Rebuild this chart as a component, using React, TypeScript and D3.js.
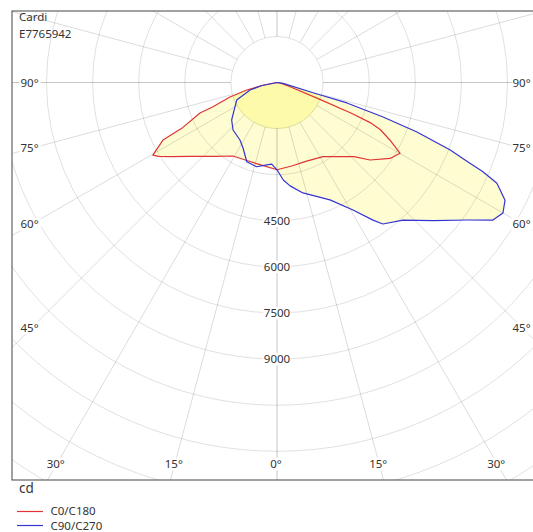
import React from "react";
import * as d3 from "d3";

const title = "Cardi";
const code = "E7765942";
const unitLabel = "cd";
const legendNames = ["C0/C180", "C90/C270"];
const legendColors = ["#e03434", "#3434d2"];
const ringStep = 1500;
const ringLabels = [4500, 6000, 7500, 9000];
const sideAngleTicks = [90, 75, 60, 45];
const bottomAngleTicks = [-30, -15, 0, 15, 30];

// C0 (right) / C180 (left) half-planes
const c0Gamma = [0, 10, 20, 31.8, 46.1, 50.2, 56.1, 60.1, 63, 65.5, 66.7, 67.5, 68.5, 72, 80, 90];
const c0Cd = [2840, 2760, 2730, 2840, 3480, 3940, 4430, 4620, 4120, 3690, 3300, 2640, 1500, 450, 120, 0];
const c180Gamma = [0, 10, 20, 31, 40, 45, 50, 55, 58, 59.7, 63.2, 64.3, 68.4, 69.3, 72.9, 76.1, 78.7, 90];
const c180Cd = [2840, 2740, 2720, 2790, 3140, 3400, 3740, 4200, 4540, 4680, 4155, 3440, 2695, 2226, 1600, 1016, 498, 0];
// C90 (right) / C270 (left) half-planes
const c90Gamma = [0, 3.7, 7.2, 13.2, 24.3, 30.8, 34.9, 36.8, 42.5, 48.5, 54.1, 57.5, 60, 62.7, 65.4, 66.6, 67.4, 68.7, 70.5, 72, 73.7, 74.2, 82, 90];
const c90Cd = [2840, 3180, 3390, 3690, 4190, 4830, 5460, 5750, 6070, 6780, 7630, 8330, 8490, 8350, 7870, 7290, 6720, 6050, 4830, 3630, 2370, 1220, 200, 0];
const c270Gamma = [0, 3.7, 7.1, 13.6, 20.9, 27.4, 32.8, 42.8, 50.4, 54.8, 66.5, 74.5, 78.7, 90];
const c270Cd = [2840, 2660, 2700, 2820, 2760, 2400, 2225, 2105, 1915, 1740, 1430, 910, 500, 0];

const W = 533;
const H = 532;
const cx = 277;
const cy = 82.5;
const frame = { x: 12, y: 11, x2: 545, y2: 480 };
const FONT = "'Noto Sans', 'DejaVu Sans', sans-serif";
const TXT = "#333";

const rScale = d3.scaleLinear().domain([0, ringStep]).range([0, 46.1]);
const rad = (deg: number) => (deg * Math.PI) / 180;

type P = { a: number; cd: number };
function buildPath(leftG: number[], leftI: number[], rightG: number[], rightI: number[]) {
  const pts: P[] = [];
  for (let i = leftG.length - 1; i >= 0; i--) pts.push({ a: Math.PI + rad(leftG[i]), cd: leftI[i] });
  for (let i = 0; i < rightG.length; i++) pts.push({ a: Math.PI - rad(rightG[i]), cd: rightI[i] });
  const line = d3
    .lineRadial<P>()
    .angle((d) => d.a)
    .radius((d) => rScale(d.cd))
    .curve(d3.curveLinear);
  return (line(pts) || "") + "Z";
}

function Label({ x, y, text, anchor = "middle", size = 11.5 }: { x: number; y: number; text: string; anchor?: string; size?: number }) {
  const w = text.length * size * 0.56 + 2;
  const h = size + 1;
  const x0 = anchor === "middle" ? x - w / 2 : anchor === "start" ? x - 1 : x - w + 1;
  return (
    <g>
      <rect x={x0} y={y - h / 2} width={w} height={h} fill="#fff" />
      <text x={x} y={y} dy="0.36em" textAnchor={anchor as any} fontSize={size} fontFamily={FONT} fill={TXT}>
        {text}
      </text>
    </g>
  );
}

export default function App() {
  const redPath = buildPath(c180Gamma, c180Cd, c0Gamma, c0Cd);
  const bluePath = buildPath(c270Gamma, c270Cd, c90Gamma, c90Cd);
  const rings = d3.range(1, 30).map((i) => i * ringStep);
  const spokes = d3.range(0, 360, 15);
  const innerR = rScale(ringStep);

  return (
    <svg width={W} height={H} style={{ position: "fixed", left: 0, top: 0, background: "#fff" }}>
      <defs>
        <clipPath id="frameClip">
          <rect x={frame.x} y={frame.y} width={frame.x2 - frame.x} height={frame.y2 - frame.y} />
        </clipPath>
        <clipPath id="discClip">
          <circle cx={cx} cy={cy} r={innerR} />
        </clipPath>
      </defs>
      <rect x={0} y={0} width={W} height={H} fill="#fff" />
      <g clipPath="url(#frameClip)">
        <g transform={`translate(${cx},${cy})`}>
          <path d={redPath} fill="#fefdd2" stroke="none" />
          <path d={bluePath} fill="#fefdd2" stroke="none" />
          <g clipPath="url(#discClipLocal)" />
        </g>
        <g clipPath="url(#discClip)">
          <g transform={`translate(${cx},${cy})`}>
            <path d={redPath} fill="#fdfbaa" stroke="none" />
            <path d={bluePath} fill="#fdfbaa" stroke="none" />
          </g>
        </g>
        <g transform={`translate(${cx},${cy})`}>
          {rings.map((v) => (
            <circle key={v} r={rScale(v)} fill="none" stroke="#000" strokeOpacity={0.12} strokeWidth={1} />
          ))}
          {spokes.map((s) => {
            const a = rad(s);
            const main = s % 90 === 0;
            return (
              <line
                key={s}
                x1={innerR * Math.sin(a)}
                y1={innerR * Math.cos(a)}
                x2={900 * Math.sin(a)}
                y2={900 * Math.cos(a)}
                stroke="#000"
                strokeOpacity={main ? 0.22 : 0.14}
                strokeWidth={1}
              />
            );
          })}
          <path d={redPath} fill="none" stroke={legendColors[0]} strokeWidth={1.2} strokeLinejoin="round" />
          <path d={bluePath} fill="none" stroke={legendColors[1]} strokeWidth={1.2} strokeLinejoin="round" />
        </g>
        {ringLabels.map((v) => (
          <Label key={v} x={cx} y={cy + rScale(v)} text={String(v)} />
        ))}
        {sideAngleTicks.map((g) => {
          const dx = 245.5;
          const y = g === 90 ? cy : cy + dx / Math.tan(rad(g));
          return (
            <g key={g}>
              <Label x={20.5} y={y} text={`${g}°`} anchor="start" />
              <Label x={512.5} y={y} text={`${g}°`} anchor="start" />
            </g>
          );
        })}
        {bottomAngleTicks.map((g, i) => {
          const y = 464;
          const x = cx + (y - cy) * Math.tan(rad(g)) - 1;
          return <Label key={i} x={x} y={y} text={`${Math.abs(g)}°`} />;
        })}
      </g>
      <rect
        x={frame.x}
        y={frame.y}
        width={frame.x2 - frame.x}
        height={frame.y2 - frame.y}
        fill="none"
        stroke="#444"
        strokeWidth={1}
      />
      <text x={19} y={17} dy="0.36em" fontSize={11.5} fontFamily={FONT} fill={TXT}>
        {title}
      </text>
      <text x={19} y={33.5} dy="0.36em" fontSize={11.5} fontFamily={FONT} fill={TXT}>
        {code}
      </text>
      <text x={19} y={488} dy="0.36em" fontSize={13.5} fontFamily={FONT} fill={TXT}>
        {unitLabel}
      </text>
      {legendNames.map((n, i) => (
        <g key={n}>
          <line x1={17} x2={43} y1={511.5 + i * 14} y2={511.5 + i * 14} stroke={legendColors[i]} strokeWidth={1.2} />
          <text x={50.5} y={511 + i * 14.5} dy="0.36em" fontSize={11.5} fontFamily={FONT} fill={TXT}>
            {n}
          </text>
        </g>
      ))}
    </svg>
  );
}
